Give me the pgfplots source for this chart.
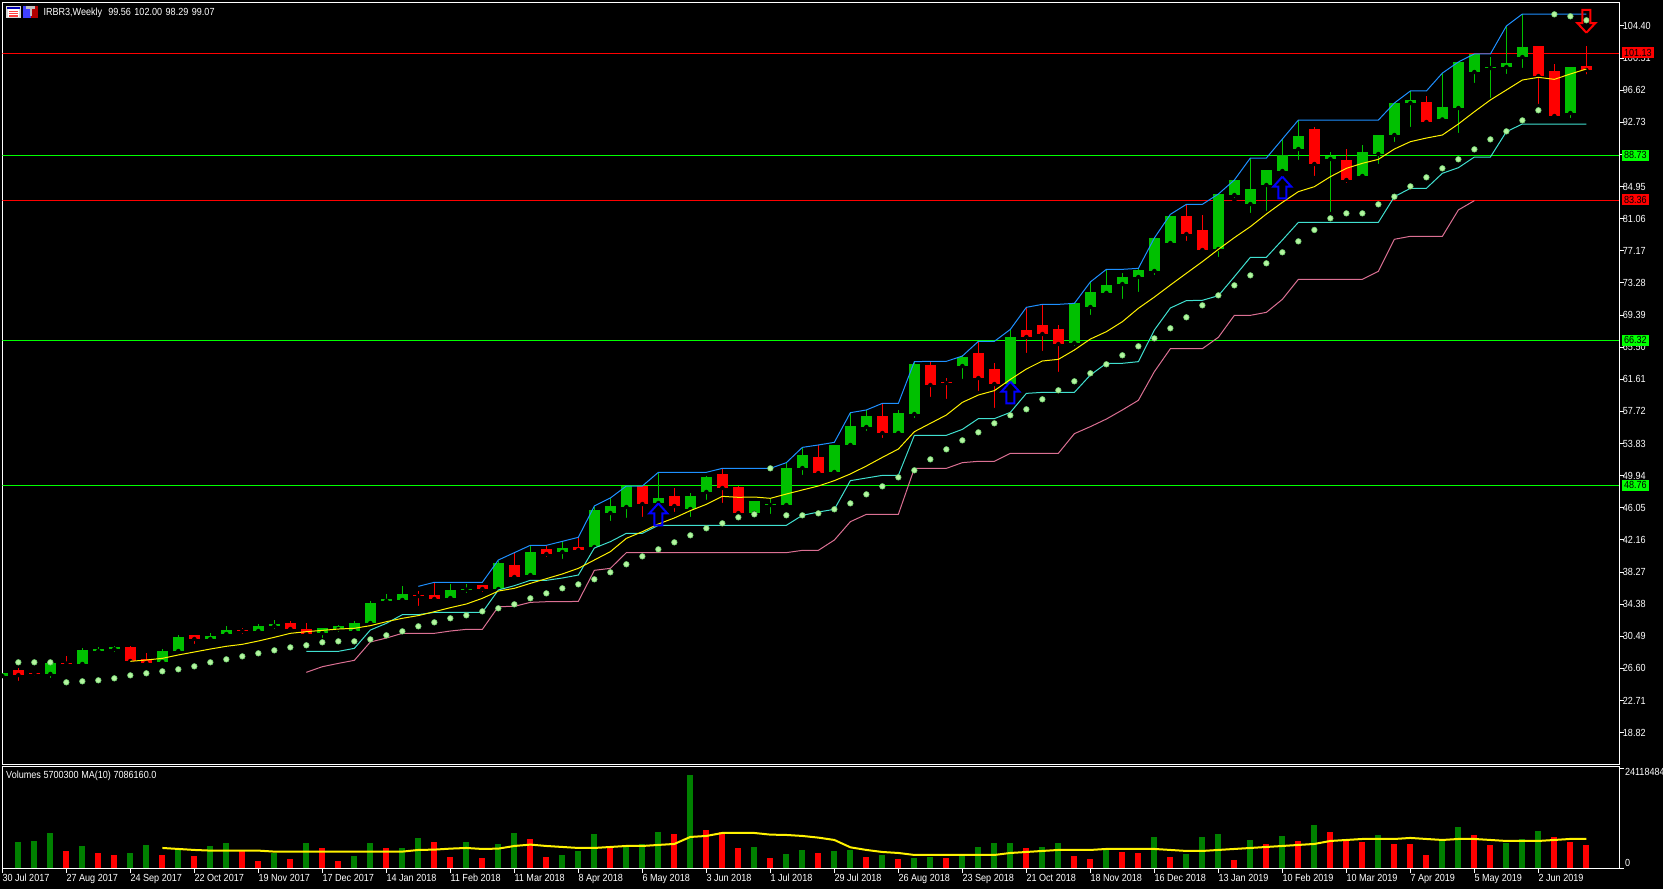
\documentclass[border=0pt]{standalone}
\usepackage{fontspec}
\setmainfont[FakeStretch=0.88]{Liberation Sans}
\usepackage{pgfplots}
\usepackage{pgfplotstable}
\pgfplotsset{compat=1.18}

\definecolor{cgreen}{HTML}{00C000}
\definecolor{vgreen}{HTML}{008000}
\definecolor{hgreen}{HTML}{00FF00}
\definecolor{bandblue}{HTML}{1E90FF}
\definecolor{bandcyan}{HTML}{40E0D0}
\definecolor{bandpink}{HTML}{DB7093}
\definecolor{sar}{HTML}{B4F5A0}
\definecolor{sarring}{HTML}{70D070}

\newcommand{\chartfont}{\fontsize{10.3}{11}\selectfont}

% weekly candles, up and down apart
\pgfplotstableread{
i o h l c
0 25.68 26.05 25.68 26.05
3 25.93 27.42 25.20 27.26
5 27.14 29.07 27.02 28.83
6 28.71 29.20 28.23 28.95
7 28.95 29.32 28.35 29.20
10 27.38 28.95 27.38 28.71
11 28.71 30.65 28.59 30.41
13 30.16 30.89 29.80 30.53
14 30.77 31.74 30.53 31.25
16 31.13 31.98 30.89 31.74
17 31.74 32.46 31.13 31.98
20 30.89 31.50 30.04 31.50
21 31.37 31.86 30.77 31.74
22 31.13 32.34 31.13 32.10
23 32.10 34.77 31.86 34.52
24 34.77 35.61 34.77 35.01
25 34.89 36.58 34.77 35.61
28 35.13 36.82 35.13 36.10
29 36.14 36.82 35.49 36.22
31 36.22 39.61 35.85 39.37
33 37.91 41.43 37.79 40.70
35 40.70 41.91 39.61 41.18
37 41.30 46.15 41.30 45.79
38 45.42 47.24 44.21 46.27
39 46.15 48.69 44.58 48.69
41 46.63 50.39 46.27 47.24
43 45.91 47.84 44.70 47.48
44 47.97 49.90 46.76 49.78
47 45.42 46.88 45.42 46.88
48 46.39 47.12 45.06 46.51
49 46.39 51.48 46.39 50.87
50 50.87 53.29 49.78 52.45
52 50.39 53.66 50.39 53.66
53 53.66 57.53 53.66 55.96
54 55.84 57.90 55.11 57.17
56 55.11 57.90 55.11 57.53
57 57.41 63.71 56.68 63.47
60 63.22 64.56 61.41 64.31
63 61.04 67.71 60.56 66.74
67 66.01 70.85 65.40 70.85
68 70.37 73.40 69.16 72.19
69 72.07 74.85 71.70 73.03
70 73.15 74.49 71.10 74.00
71 74.00 75.09 71.94 74.85
72 74.73 78.73 74.00 78.73
73 78.12 81.39 77.76 81.39
76 77.39 84.05 76.18 84.05
77 83.93 85.75 83.33 85.75
78 82.84 88.41 81.51 84.66
79 85.14 86.96 81.75 86.96
80 86.84 90.71 86.36 88.78
81 89.50 93.01 87.93 91.08
83 88.29 89.14 81.63 88.66
85 86.23 89.99 85.99 89.14
86 88.90 91.20 87.44 91.20
87 91.20 95.07 90.11 95.07
88 95.07 96.53 91.92 95.44
90 93.08 98.70 92.89 94.59
91 94.47 100.04 91.20 100.04
92 98.83 101.01 97.25 101.01
93 99.31 100.64 95.44 99.43
94 99.43 104.40 98.34 99.92
95 100.64 105.85 99.07 101.86
98 93.86 99.43 93.01 99.43
}\upcandles

\pgfplotstableread{
i o h l c
1 26.41 26.65 24.84 25.80
2 26.09 26.21 25.44 25.97
4 27.26 28.10 26.89 27.18
8 29.20 29.32 27.02 27.50
9 27.70 28.47 27.14 27.26
12 30.65 30.65 29.32 30.16
15 31.25 31.50 30.53 31.13
18 32.10 32.34 31.01 31.37
19 31.37 32.10 30.77 30.77
26 35.49 35.98 33.92 35.37
27 35.49 36.95 34.89 35.01
30 36.70 36.70 35.61 36.22
32 39.13 40.58 37.43 37.67
34 41.06 41.43 39.85 40.46
36 41.30 42.52 40.58 40.94
40 48.69 48.69 44.70 46.51
42 47.48 48.45 45.30 46.27
45 50.15 50.75 46.39 48.45
46 48.57 48.69 45.18 45.42
51 52.20 53.66 50.14 50.26
55 57.17 58.62 54.26 55.11
58 63.35 63.71 59.23 60.92
59 61.25 61.77 58.98 61.17
61 64.80 66.25 59.95 61.77
62 62.86 63.59 57.90 61.04
64 67.58 70.37 64.56 66.74
65 68.19 70.61 64.80 67.10
66 67.71 68.19 62.26 65.89
74 81.39 82.72 78.12 79.21
75 79.69 81.51 77.15 77.27
82 91.92 92.17 85.99 87.69
84 88.17 89.50 85.14 85.75
89 95.20 95.92 92.77 92.77
96 101.98 101.98 94.71 98.34
97 98.95 99.80 93.50 93.50
99 99.56 102.00 98.29 99.07
}\downcandles

\pgfplotstableread{
i v
8 27.46
9 27.62
10 27.82
11 28.23
12 28.59
13 28.95
14 29.28
15 29.52
16 29.92
17 30.37
18 30.85
19 31.05
20 31.21
21 31.37
22 31.46
23 31.78
24 32.26
25 32.67
26 33.00
27 33.47
28 33.96
29 34.40
30 35.09
31 35.97
32 36.30
33 36.90
34 37.47
35 38.04
36 38.72
37 39.73
38 40.74
39 42.35
40 43.16
41 44.09
42 44.82
43 45.71
44 46.47
45 47.44
46 47.32
47 47.36
48 47.20
49 47.72
50 48.21
51 48.69
52 49.34
53 50.15
54 51.11
55 52.16
56 53.17
57 55.27
58 56.28
59 57.29
60 58.82
61 59.71
62 60.24
63 61.60
64 62.86
65 63.83
66 64.03
67 65.16
68 66.49
69 67.38
70 68.59
71 70.21
72 71.57
73 73.03
74 74.45
75 75.86
76 77.35
77 78.77
78 80.10
79 81.63
80 83.04
81 84.34
82 84.94
83 86.15
84 87.16
85 87.77
86 88.25
87 89.50
88 90.39
89 90.83
90 91.20
91 92.53
92 94.02
93 95.44
94 96.65
95 97.86
96 98.18
97 97.94
98 98.59
99 99.19
}\pricema

\pgfplotstableread{
i v
26 36.54
27 37.03
30 37.03
31 39.73
32 40.62
33 41.51
34 41.51
35 41.99
36 42.48
37 46.27
38 47.24
39 48.69
40 48.69
41 50.35
44 50.35
45 50.83
48 50.83
49 51.52
50 53.37
51 53.66
52 53.98
53 57.57
54 57.90
55 58.70
56 58.70
57 63.75
58 63.79
59 63.79
60 64.43
61 66.21
62 66.21
63 67.66
64 70.33
65 70.69
66 70.69
67 70.81
68 73.40
69 74.93
70 74.93
71 75.05
72 78.73
73 81.59
74 82.80
75 82.80
76 84.05
77 85.75
78 88.41
79 88.41
80 90.71
81 93.01
86 93.01
87 95.07
88 96.53
89 96.53
90 98.70
91 100.04
92 101.01
93 101.01
94 104.40
95 105.85
99 105.85
}\bandup

\pgfplotstableread{
i v
19 28.67
21 28.67
22 29.03
23 31.25
24 32.06
25 33.11
26 33.11
27 33.39
30 33.39
31 36.10
32 36.62
33 37.27
34 37.27
35 37.55
36 37.91
37 41.18
38 41.95
39 42.96
40 42.96
41 43.93
49 43.93
50 45.14
51 45.54
52 45.87
53 49.34
54 49.66
55 49.98
56 49.98
57 54.83
59 54.83
60 55.55
61 56.85
62 56.85
63 57.61
64 59.91
65 60.03
67 60.03
68 62.13
69 63.55
70 63.55
71 63.75
72 67.58
73 70.25
74 71.14
75 71.18
76 71.74
77 74.04
78 76.39
79 76.39
80 78.48
81 80.62
86 80.62
87 83.73
88 84.74
89 84.74
90 86.56
91 87.24
92 88.53
93 88.53
94 91.60
95 92.53
99 92.53
}\banddown

\pgfplotstableread{
i v
19 26.13
20 26.81
21 27.21
22 27.58
23 29.80
24 30.28
25 30.85
27 30.85
28 31.13
29 31.33
30 31.33
31 34.08
32 34.12
33 34.60
34 34.68
35 34.68
36 34.72
37 38.48
38 38.72
39 40.62
49 40.62
50 40.90
51 40.90
52 42.15
53 44.37
54 45.26
56 45.26
57 50.83
59 50.83
60 51.52
61 51.68
62 51.68
63 52.65
66 52.65
67 55.03
68 55.88
69 56.80
70 57.90
71 59.07
72 62.54
73 65.32
75 65.32
76 66.70
77 69.36
78 69.36
79 69.72
80 71.30
81 73.72
85 73.72
86 74.69
87 78.57
88 78.93
90 78.93
91 82.12
92 83.25
}\bandlow

\pgfplotstableread{
i v
1 27.34
2 27.34
3 27.34
4 24.92
5 25.04
6 25.16
7 25.40
8 25.76
9 26.01
10 26.25
11 26.49
12 26.85
13 27.34
14 27.70
15 28.06
16 28.43
17 28.79
18 29.15
19 29.40
20 29.76
21 29.88
22 29.88
23 30.12
24 30.61
25 31.09
26 31.70
27 32.18
28 32.67
29 33.03
30 33.51
31 33.88
32 34.36
33 35.09
34 35.69
35 36.30
36 36.78
37 37.39
38 38.24
39 39.21
40 40.17
41 41.02
42 41.87
43 42.72
44 43.57
45 44.17
46 44.90
47 45.26
48 50.83
49 45.14
50 45.14
51 45.38
52 45.87
53 46.59
54 47.68
55 48.65
56 49.74
57 50.59
58 51.92
59 53.13
60 54.22
61 55.19
62 56.28
63 57.25
64 57.98
65 59.19
66 60.28
67 61.37
68 62.34
69 63.43
70 64.52
71 65.61
72 66.57
73 67.79
74 69.12
75 70.57
76 71.78
77 72.99
78 74.20
79 75.66
80 76.99
81 78.32
82 79.70
83 81.11
84 81.71
85 81.71
86 82.80
87 83.73
88 84.98
89 86.07
90 87.16
91 88.25
92 89.46
93 90.67
94 91.64
95 92.97
96 94.19
97 105.81
98 105.57
99 105.09
}\sardots

% volumes in millions
\pgfplotstableread{
i v
1 6.36
2 6.60
3 8.53
5 5.39
8 3.70
9 5.64
11 4.43
13 5.39
14 6.12
17 3.70
19 6.12
22 2.98
23 6.12
25 4.91
26 7.33
29 6.36
31 5.88
32 8.53
35 3.22
36 4.19
37 8.29
39 5.39
40 5.88
41 8.77
43 22.54
47 5.15
49 3.46
50 4.43
52 4.19
53 4.43
55 3.22
57 2.50
58 2.74
60 3.22
61 5.15
62 6.12
63 6.12
65 5.15
66 6.12
69 4.43
72 7.57
74 3.46
75 7.57
76 8.29
78 6.84
80 7.81
82 10.47
86 8.05
90 6.84
91 9.98
94 6.12
95 7.08
96 9.02
}\volup

\pgfplotstableread{
i v
4 4.19
6 3.70
7 3.22
10 3.22
12 2.98
15 4.19
16 1.77
18 2.25
20 4.91
21 1.77
24 4.91
27 6.36
28 2.74
30 2.50
33 7.08
34 2.74
38 5.15
42 8.29
44 9.26
45 8.77
46 4.91
48 2.50
51 3.70
54 2.74
56 2.25
59 2.50
64 4.91
67 2.98
68 2.25
70 3.94
71 3.70
73 2.74
77 2.01
79 5.88
81 6.60
83 8.77
84 6.84
85 6.36
87 5.88
88 5.88
89 3.22
92 8.05
93 5.64
97 7.57
98 6.36
99 5.70
}\voldown

\pgfplotstableread{
i v
10 4.91
11 4.67
12 4.43
13 4.27
16 4.27
17 4.03
25 4.03
26 4.43
27 4.51
28 4.75
29 4.91
30 4.67
31 4.75
32 5.39
33 5.72
34 5.39
35 5.15
36 4.91
37 4.91
38 5.15
39 5.39
40 5.39
41 5.64
42 5.88
43 7.57
44 7.81
45 8.53
47 8.53
48 8.13
49 8.05
50 7.81
51 7.41
52 6.84
53 5.07
54 4.43
55 3.94
56 3.70
57 3.22
62 3.22
63 3.70
64 3.94
65 4.19
66 4.43
68 4.43
69 4.67
72 4.67
73 4.43
74 4.19
75 4.19
76 4.43
77 4.67
78 4.91
79 5.15
80 5.39
81 5.64
82 5.88
83 6.60
84 6.84
85 7.08
87 7.08
88 7.33
89 7.08
90 6.84
91 7.08
92 7.08
93 6.84
94 6.60
96 6.60
97 6.84
98 7.09
99 7.09
}\volma

\pgfplotsset{
  mtpanel/.style={
    scale only axis,
    width=1617pt,
    xmin=0, xmax=101.06,
    clip mode=individual,
    axis line style={white, line width=1pt},
    tick style={white, line width=1pt},
    major tick length=4.4pt,
    tick align=outside,
    ytick pos=right,
    yticklabel pos=right,
    ticklabel style={text=white, font=\chartfont},
  },
  hline/.style={forget plot, line width=1pt, #1},
}

\begin{document}
\begin{tikzpicture}[x=1pt, y=1pt]
\path[use as bounding box, fill=black] (0,0) rectangle (1663,889);

\begin{axis}[
    mtpanel,
    at={(2.33pt,124.7pt)}, anchor=south west,
    height=762pt,
    ymin=14.99, ymax=107.27,
    xtick=\empty,
    ytick={18.82,22.71,26.60,30.49,34.38,38.27,42.16,46.05,49.94,53.83,57.72,61.61,65.50,69.39,73.28,77.17,81.06,84.95,88.84,92.73,96.62,100.51,104.40},
    yticklabels={18.82,22.71,26.60,30.49,34.38,38.27,42.16,46.05,49.94,53.83,57.72,61.61,65.50,69.39,73.28,77.17,81.06,84.95,88.84,92.73,96.62,100.51,104.40},
    yticklabel style={anchor=west, inner sep=0pt, xshift=-1pt},
  ]
  % levels
  \addplot[hline=red] coordinates {(0,101.08) (101.06,101.08)};
  \addplot[hline=hgreen] coordinates {(0,88.73) (101.06,88.73)};
  \addplot[hline=red] coordinates {(0,83.28) (101.06,83.28)};
  \addplot[hline=hgreen] coordinates {(0,66.32) (101.06,66.32)};
  \addplot[hline=hgreen] coordinates {(0,48.76) (101.06,48.76)};

  % candles: wicks, then bodies
  \addplot[only marks, mark=none, forget plot, error bars/.cd, y dir=plus, y explicit, error mark=none,
    error bar style={cgreen, line width=1pt}]
    table[x=i, y=l, y error expr=\thisrow{h}-\thisrow{l}] {\upcandles};
  \addplot[only marks, mark=none, forget plot, error bars/.cd, y dir=plus, y explicit, error mark=none,
    error bar style={red, line width=1pt}]
    table[x=i, y=l, y error expr=\thisrow{h}-\thisrow{l}] {\downcandles};
  \addplot[only marks, mark=none, forget plot, error bars/.cd, y dir=plus, y explicit, error mark=none,
    error bar style={cgreen, line width=11pt}]
    table[x=i, y=o, y error expr=\thisrow{c}-\thisrow{o}] {\upcandles};
  \addplot[only marks, mark=none, forget plot, error bars/.cd, y dir=plus, y explicit, error mark=none,
    error bar style={red, line width=11pt}]
    table[x=i, y=c, y error expr=\thisrow{o}-\thisrow{c}] {\downcandles};

  % bands and average
  \addplot[bandpink, line width=1pt] table[x=i, y=v] {\bandlow};
  \addplot[bandcyan, line width=1pt] table[x=i, y=v] {\banddown};
  \addplot[bandblue, line width=1pt] table[x=i, y=v] {\bandup};
  \addplot[yellow, line width=1pt] table[x=i, y=v] {\pricema};
  \addplot[only marks, mark=*, mark size=2.8pt, mark options={fill=sar, draw=sarring, line width=0.6pt}]
    table[x=i, y=v] {\sardots};

  % signal arrows
  \addplot[blue, line width=2pt, line join=miter] coordinates {(41,46.59) (41.56,45.38) (41.25,45.38) (41.25,43.93) (40.75,43.93) (40.75,45.38) (40.44,45.38) (41,46.59)};
  \addplot[blue, line width=2pt, line join=miter] coordinates {(63,61.33) (63.56,60.12) (63.25,60.12) (63.25,58.70) (62.75,58.70) (62.75,60.12) (62.44,60.12) (63,61.33)};
  \addplot[blue, line width=2pt, line join=miter] coordinates {(80,86.15) (80.56,84.94) (80.25,84.94) (80.25,83.53) (79.75,83.53) (79.75,84.94) (79.44,84.94) (80,86.15)};
  \addplot[red, line width=2pt, line join=miter] coordinates {(99,103.59) (99.56,104.75) (99.25,104.75) (99.25,106.34) (98.75,106.34) (98.75,104.75) (98.44,104.75) (99,103.59)};

  % level tags
  \node[anchor=west, fill=red, text=black, font=\chartfont, inner xsep=2pt, inner ysep=0pt, minimum height=11pt] at (axis cs:101.06,101.13) [xshift=2.5pt] {101.13};
  \node[anchor=west, fill=hgreen, text=black, font=\chartfont, inner xsep=2pt, inner ysep=0pt, minimum height=11pt] at (axis cs:101.06,88.73) [xshift=2.5pt] {88.73};
  \node[anchor=west, fill=red, text=black, font=\chartfont, inner xsep=2pt, inner ysep=0pt, minimum height=11pt] at (axis cs:101.06,83.36) [xshift=2.5pt] {83.36};
  \node[anchor=west, fill=hgreen, text=black, font=\chartfont, inner xsep=2pt, inner ysep=0pt, minimum height=11pt] at (axis cs:101.06,66.32) [xshift=2.5pt] {66.32};
  \node[anchor=west, fill=hgreen, text=black, font=\chartfont, inner xsep=2pt, inner ysep=0pt, minimum height=11pt] at (axis cs:101.06,48.76) [xshift=2.5pt] {48.76};
\end{axis}

\begin{axis}[
    mtpanel,
    at={(2.33pt,20.7pt)}, anchor=south west,
    height=102pt,
    ymin=0, ymax=24.63,
    xtick={0,4,...,96},
    xticklabels={30 Jul 2017,27 Aug 2017,24 Sep 2017,22 Oct 2017,19 Nov 2017,17 Dec 2017,14 Jan 2018,11 Feb 2018,11 Mar 2018,8 Apr 2018,6 May 2018,3 Jun 2018,1 Jul 2018,29 Jul 2018,26 Aug 2018,23 Sep 2018,21 Oct 2018,18 Nov 2018,16 Dec 2018,13 Jan 2019,10 Feb 2019,10 Mar 2019,7 Apr 2019,5 May 2019,2 Jun 2019},
    xtick pos=bottom,
    xticklabel style={anchor=north west, inner sep=0pt, yshift=-1pt},
    ytick={0,24.118484},
    yticklabels={,},
  ]
  \addplot[ycomb, vgreen, line width=6pt, forget plot] table[x=i, y=v] {\volup};
  \addplot[ycomb, red, line width=6pt, forget plot] table[x=i, y=v] {\voldown};
  \addplot[yellow, line width=2pt] table[x=i, y=v] {\volma};
  \node[anchor=west, text=white, font=\chartfont, inner sep=0pt] at (axis cs:0,22.36) [xshift=3.7pt] {Volumes 5700300 MA(10) 7086160.0};
  \node[anchor=west, text=white, font=\chartfont, inner sep=0pt] at (axis cs:101.06,23.25) [xshift=5.5pt] {24118484};
  \node[anchor=west, text=white, font=\chartfont, inner sep=0pt] at (axis cs:101.06,1.35) [xshift=5.5pt] {0};
\end{axis}

% title row with the two terminal icons
\fill[white!85!black] (6,871) rectangle (20.5,883);
\fill[blue!70!black] (6.8,880) rectangle (19.7,882.3);
\fill[white] (7.5,872) rectangle (19,879.5);
\fill[red!75] (8.5,876.8) rectangle (18,878);
\fill[red!75] (8.5,874.6) rectangle (18,875.8);
\fill[red!75] (8.5,872.4) rectangle (18,873.6);
\fill[blue!75] (23,871) rectangle (30.5,883);
\fill[red!70!black] (30.5,871) rectangle (38,883);
\fill[white!75!black] (26,880) rectangle (35,882.5);
\fill[white!75!black] (29.5,873) rectangle (31.5,880);
\node[anchor=west, text=white, font=\chartfont, inner sep=0pt] at (43.3,876.3) {IRBR3,Weekly\hspace{6pt}99.56\hspace{1pt} 102.00\hspace{1pt} 98.29\hspace{1pt} 99.07};
\end{tikzpicture}
\end{document}
